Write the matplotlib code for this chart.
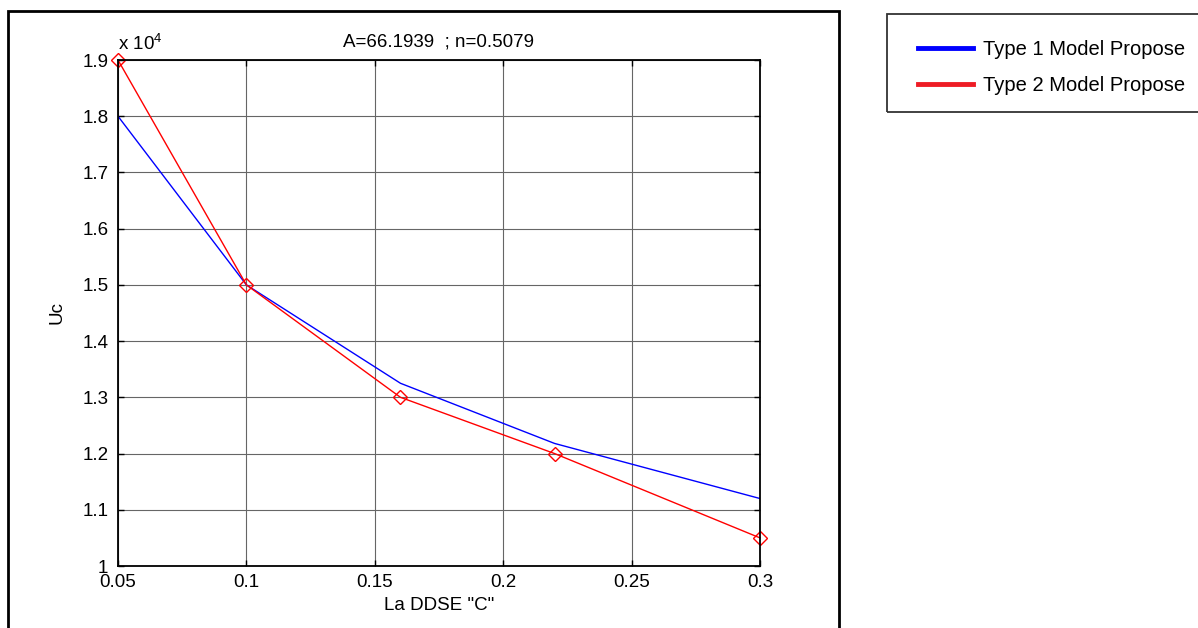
import matplotlib.pyplot as plt
from matplotlib.patches import Rectangle
from matplotlib.lines import Line2D

plt.rcParams['font.family'] = ['Liberation Sans', 'DejaVu Sans']
plt.rcParams['mathtext.fontset'] = 'custom'
plt.rcParams['mathtext.rm'] = 'Liberation Sans'

# data
c_values = [0.05, 0.1, 0.16, 0.22, 0.3]
uc_type1 = [18000, 15000, 13250, 12180, 11200]
uc_type2 = [19000, 15000, 13000, 12000, 10500]
xticks = [0.05, 0.1, 0.15, 0.2, 0.25, 0.3]
yticks = [10000, 11000, 12000, 13000, 14000, 15000, 16000, 17000, 18000, 19000]
ytick_labels = ['1', '1.1', '1.2', '1.3', '1.4', '1.5', '1.6', '1.7', '1.8', '1.9']

fs = 13.5

fig = plt.figure(figsize=(11.98, 6.28), dpi=100)
ax = fig.add_axes([118 / 1198, 1 - 566 / 628, (760 - 118) / 1198, (566 - 60) / 628])

ax.plot(c_values, uc_type1, color='blue', lw=1)
ax.plot(c_values, uc_type2, color='red', lw=1, marker='D', markersize=7.5,
        markerfacecolor='none', markeredgecolor='red', clip_on=False)

ax.set_xlim(0.05, 0.3)
ax.set_ylim(10000, 19000)
ax.set_xticks(xticks)
ax.set_xticklabels([str(t) for t in xticks])
ax.set_yticks(yticks)
ax.set_yticklabels(ytick_labels)
ax.grid(True, color='0.4', lw=0.8)
ax.tick_params(direction='in', length=4, top=True, right=True, labelsize=fs, width=1)
ax.tick_params(axis='y', pad=7)
ax.tick_params(axis='x', pad=6)
for s in ax.spines.values():
    s.set_linewidth(1.3)

ax.set_xlabel('La DDSE "C"', fontsize=fs, labelpad=4)
ax.set_ylabel('Uc', fontsize=fs, labelpad=12)
ax.set_title('A=66.1939  ; n=0.5079', fontsize=fs, pad=10)
ax.text(0.0, 1.012, r'x 10$^{4}$', transform=ax.transAxes, fontsize=fs, ha='left', va='bottom')

# outer frame around the axes panel
fig.patches.append(Rectangle((8 / 1198, -0.1), 831 / 1198, 1 - 11 / 628 + 0.1,
                             transform=fig.transFigure, fill=False, lw=2, edgecolor='black'))

# legend box
fig.patches.append(Rectangle((887 / 1198, 1 - 112 / 628), 330 / 1198, 98 / 628,
                             transform=fig.transFigure, fill=False, lw=1.3, edgecolor='0.2'))
handles = [Line2D([], [], color='blue', lw=3.5), Line2D([], [], color='#ee1c25', lw=3.5)]
fig.legend(handles, ['Type 1 Model Propose', 'Type 2 Model Propose'],
           loc='upper left', bbox_to_anchor=(918 / 1198, 1 - 40 / 628),
           frameon=False, fontsize=14.5, handlelength=2.75, handletextpad=0.5,
           labelspacing=0.84, borderaxespad=0, borderpad=0)

fig.savefig('out.png', dpi=100)
